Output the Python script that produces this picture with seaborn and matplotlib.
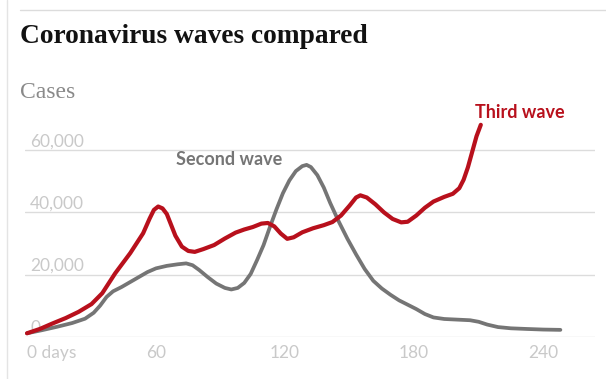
import matplotlib
matplotlib.use("Agg")
import matplotlib.pyplot as plt
from matplotlib.lines import Line2D
import seaborn as sns

# Values (days since start, daily cases)
third_days = [0, 6, 12, 18, 24, 30, 35, 41, 48, 54, 57, 59, 61, 63, 65, 67, 69, 72, 75, 78,
              82, 87, 92, 97, 101, 105, 109, 112, 115, 118, 121, 124, 128, 133, 138, 142,
              146, 150, 153, 155, 158, 162, 166, 170, 174, 177, 181, 185, 189, 194, 198,
              201, 203, 205, 207, 209, 211]
third_cases = [1100, 2500, 4300, 6000, 8000, 10500, 14000, 20400, 26900, 33300, 38000,
               40800, 41900, 41300, 39500, 36000, 32500, 29000, 27600, 27300, 28200, 29500,
               31600, 33500, 34500, 35300, 36400, 36600, 35500, 33200, 31500, 32000, 33600,
               34900, 35900, 36900, 39000, 42200, 44800, 45500, 44800, 42600, 40000, 37900,
               36800, 37000, 39000, 41500, 43500, 45000, 46000, 47800, 50500, 54500, 59500,
               64500, 68200]

second_days = [0, 7, 14, 21, 27, 31, 34, 37, 40, 44, 48, 52, 56, 60, 65, 70, 74, 77, 80,
               84, 88, 92, 95, 98, 101, 104, 107, 110, 113, 116, 119, 122, 125, 128, 130,
               132, 135, 138, 141, 145, 149, 153, 157, 161, 165, 169, 173, 177, 181, 185,
               189, 194, 200, 206, 210, 214, 219, 225, 232, 240, 248]
second_cases = [1100, 2100, 3200, 4400, 5800, 7700, 10000, 12800, 14600, 16000, 17600,
                19200, 20800, 22000, 22800, 23300, 23600, 23000, 21500, 19200, 17100, 15700,
                15200, 15700, 17300, 20200, 24700, 29500, 35400, 41000, 46200, 50300, 53300,
                54900, 55300, 54600, 52000, 48000, 43000, 37000, 31500, 26500, 21800, 18000,
                15500, 13500, 11700, 10300, 8900, 7300, 6200, 5700, 5500, 5300, 4800, 3900,
                3100, 2700, 2500, 2300, 2200]

x_ticks = [0, 60, 120, 180, 240]
x_labels = ["0 days", "60", "120", "180", "240"]
y_ticks = [0, 20000, 40000, 60000]
y_labels = ["0", "20,000", "40,000", "60,000"]

RED = "#b8101c"
GREY = "#757575"
LIGHT = "#c9c9c9"

sns.set_theme(style="white")
plt.rcParams["font.family"] = ["Lato", "DejaVu Sans"]

W, H = 606, 379
fig = plt.figure(figsize=(W / 100, H / 100), dpi=100)
ax = fig.add_axes([25 / W, (H - 336.7) / H, 570 / W, 223.7 / H])

# y labels sit above the gridlines, behind the lines
for v, lab in zip(y_ticks, y_labels):
    ax.annotate(lab, (0.009, v), xycoords=ax.get_yaxis_transform(),
                xytext=(0, 2.5), textcoords="offset points",
                ha="left", va="baseline", fontsize=12.5, color=LIGHT, zorder=1)

sns.lineplot(x=second_days, y=second_cases, color=GREY, lw=2.7, ax=ax, zorder=3,
             solid_joinstyle="round", solid_capstyle="round")
sns.lineplot(x=third_days, y=third_cases, color=RED, lw=3.0, ax=ax, zorder=4,
             solid_joinstyle="round", solid_capstyle="round")

ax.set_xlim(-0.93, 264.1)
ax.set_ylim(0, 72000)
ax.set_yticks(y_ticks)
ax.set_yticklabels([])
ax.set_xticks(x_ticks)
ax.set_xticklabels(x_labels, fontsize=12.5, color=LIGHT)
ax.get_xticklabels()[0].set_ha("left")
ax.tick_params(axis="both", length=0)
ax.tick_params(axis="x", pad=6)
ax.yaxis.grid(True, color="#dcdcdc", lw=1)
ax.xaxis.grid(False)
ax.set_xlabel("")
ax.set_ylabel("")
for s in ax.spines.values():
    s.set_visible(False)
ax.set_facecolor("none")

ax.text(208.4, 70400, "Third wave", color=RED, fontsize=13, fontweight="bold",
        ha="left", va="baseline", clip_on=False)
ax.text(69.3, 55300, "Second wave", color=GREY, fontsize=13, fontweight="bold",
        ha="left", va="baseline", clip_on=False)

# header
fig.text(20 / W, 1 - 43 / H, "Coronavirus waves compared", fontsize=19.7,
         fontweight="bold", family=["Liberation Serif", "DejaVu Serif"],
         color="#121212", ha="left", va="baseline")
fig.text(20 / W, 1 - 98 / H, "Cases", fontsize=17, color="#8a8a8a",
         family=["Liberation Serif", "DejaVu Serif"], ha="left", va="baseline")

# frame rules
fig.add_artist(Line2D([20 / W, 1], [1 - 10 / H, 1 - 10 / H], color="#dcdcdc", lw=1))
fig.add_artist(Line2D([7 / W, 7 / W], [0, 1], color="#e4e4e4", lw=1))

fig.savefig("out.png", dpi=100)
